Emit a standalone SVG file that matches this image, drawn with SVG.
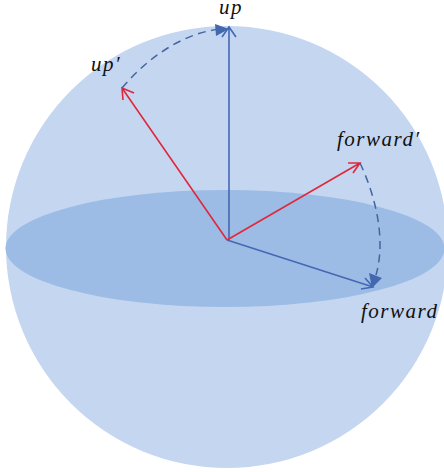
<svg xmlns="http://www.w3.org/2000/svg" width="444" height="472" viewBox="0 0 444 472">
<style>
text{font-family:"Liberation Serif",serif;font-style:italic;font-size:21px;fill:#111;letter-spacing:1.5px}
.b{stroke:#4468b4;fill:none;stroke-width:1.6}
.r{stroke:#e0283c;fill:none;stroke-width:1.6}
.d{stroke:#44659f;fill:none;stroke-width:1.5;stroke-dasharray:8 5.500}
.h{fill:#4468b0}
</style>
<g id="sphere"><circle cx="227" cy="247" r="221" fill="#c5d6f1"/></g>
<g id="disc"><ellipse cx="225" cy="248.500" rx="219.500" ry="58.500" fill="#9cbce5"/></g>
<g id="connectors">
<path class="b" d="M229 240V27M222 37L229 27L236 37"/>
<path class="b" d="M227 240L373 287M361 289L373 287L365 278"/>
<path class="r" d="M227 240L122 88M123 100L122 88L134 93"/>
<path class="r" d="M227 240L360 163M348 163L360 163L353 173"/>
<path class="d" d="M122 88C150 55 185 33 220 29"/>
<path class="h" d="M215 24L229 29L216 36Z"/>
<path class="d" d="M360 163C376 197 386 240 376 275"/>
<path class="h" d="M369 273L382 278L372 288Z"/>
</g>
<g id="label-up"><text x="219" y="14">up</text></g>
<g id="label-up-prime"><text x="91" y="71">up′</text></g>
<g id="label-forward-prime"><text x="337" y="146">forward′</text></g>
<g id="label-forward"><text x="361" y="318">forward</text></g>
</svg>
